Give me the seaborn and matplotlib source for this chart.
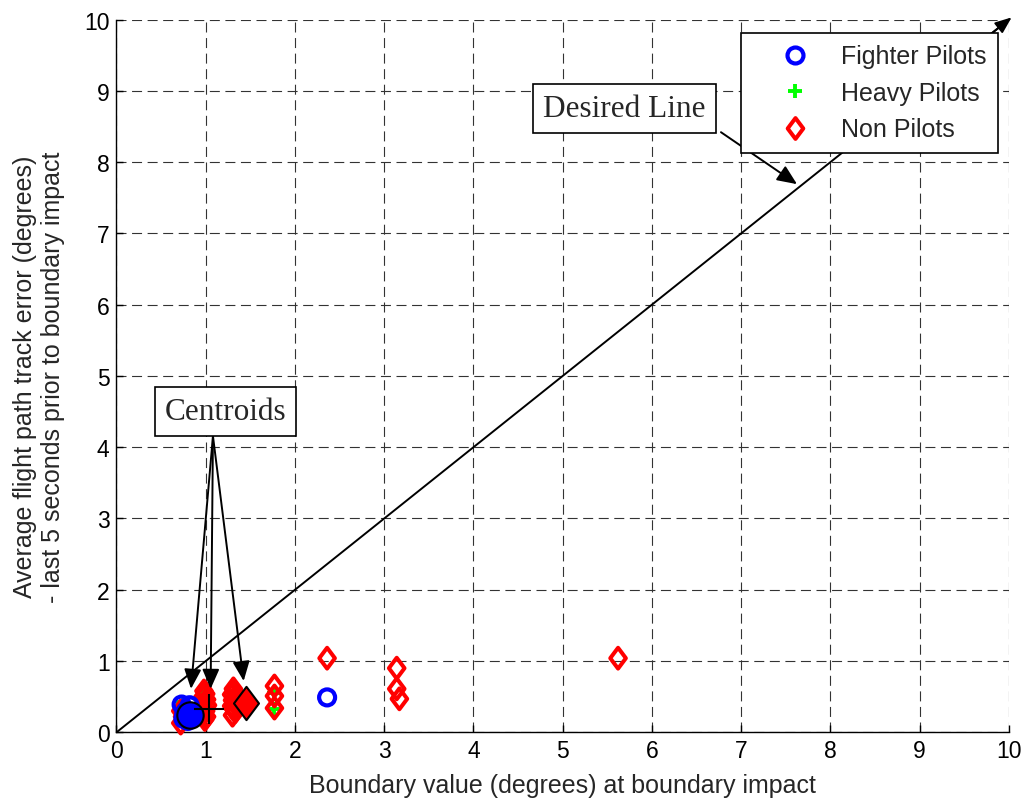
import matplotlib
matplotlib.use("Agg")
import matplotlib.pyplot as plt
from matplotlib.path import Path
from matplotlib.lines import Line2D
import pandas as pd
import seaborn as sns

# Subjects: boundary value at impact vs. average track error (degrees)
fighter_x = [0.73, 0.78, 0.75, 0.82, 0.80, 0.76, 2.36]
fighter_y = [0.39, 0.30, 0.19, 0.38, 0.16, 0.26, 0.49]

heavy_x = [0.75, 0.74, 1.00, 1.32, 1.77, 1.77]
heavy_y = [0.42, 0.30, 0.56, 0.58, 0.55, 0.33]

nonpilot_x = [0.72, 0.72, 0.74,
              0.98, 1.00, 0.97, 1.01, 0.99, 1.02, 0.98, 1.00, 0.97, 1.01, 0.99,
              1.31, 1.32, 1.29, 1.33, 1.30, 1.32, 1.29, 1.31, 1.33, 1.30,
              1.77, 1.77, 1.77, 2.36, 3.14, 3.14, 3.17, 5.62]
nonpilot_y = [0.13, 0.30, 0.22,
              0.58, 0.54, 0.50, 0.46, 0.42, 0.38, 0.34, 0.30, 0.26, 0.22, 0.18,
              0.61, 0.57, 0.53, 0.49, 0.45, 0.41, 0.37, 0.33, 0.29, 0.24,
              0.65, 0.51, 0.34, 1.04, 0.90, 0.61, 0.47, 1.04]

# Group centroids
centroid_fighter = [0.82, 0.24]
centroid_heavy = [1.04, 0.33]
centroid_nonpilot = [1.45, 0.41]

# Ideal response: track error equals boundary value
desired_x = [0, 10]
desired_y = [0, 10]

group_labels = ["Fighter Pilots", "Heavy Pilots", "Non Pilots"]
ticks = list(range(0, 11))

sns.set_style("ticks")
plt.rcParams["font.family"] = ["Liberation Sans", "DejaVu Sans"]

BLUE, GREEN, RED = "#0000FF", "#00FF00", "#FF0000"
diamond = Path([(0, 1), (0.75, 0), (0, -1), (-0.75, 0), (0, 1)],
               [Path.MOVETO, Path.LINETO, Path.LINETO, Path.LINETO, Path.CLOSEPOLY])

fig = plt.figure(figsize=(10.28, 8.04), dpi=100)
ax = fig.add_axes([0.1133, 0.0879, 0.8682, 0.8866])

fighters = pd.DataFrame({"x": fighter_x, "y": fighter_y})
heavies = pd.DataFrame({"x": heavy_x, "y": heavy_y})
nonpilots = pd.DataFrame({"x": nonpilot_x, "y": nonpilot_y})

sns.lineplot(x=desired_x, y=desired_y, color="black", lw=1.4, ax=ax, zorder=2)
ax.annotate("", xy=(10.03, 10.03), xytext=(9.6, 9.6),
            arrowprops=dict(arrowstyle="-|>,head_length=0.5,head_width=0.2",
                            color="black", lw=1.4, mutation_scale=20,
                            shrinkA=0, shrinkB=0),
            annotation_clip=False)

circle_ms, diamond_ms, plus_ms = 11.5, 15.0, 9.5
circle_lw, diamond_lw, plus_lw = 3.0, 2.9, 2.8
sns.scatterplot(data=heavies, x="x", y="y", marker="+", s=plus_ms ** 2,
                color=GREEN, linewidth=plus_lw, ax=ax, zorder=3)
sns.scatterplot(data=nonpilots, x="x", y="y", marker=diamond, s=diamond_ms ** 2,
                color=RED, facecolor="none", edgecolor=RED, linewidth=diamond_lw,
                ax=ax, zorder=4, clip_on=False)
sns.scatterplot(data=fighters, x="x", y="y", marker="o", s=circle_ms ** 2,
                color=BLUE, facecolor="none", edgecolor=BLUE, linewidth=circle_lw,
                ax=ax, zorder=5, clip_on=False)

# Centroid markers
sns.scatterplot(x=[centroid_fighter[0]], y=[centroid_fighter[1]], marker="o",
                s=19 ** 2, color=BLUE, edgecolor="black", linewidth=1.5,
                ax=ax, zorder=6, clip_on=False)
sns.scatterplot(x=[centroid_heavy[0]], y=[centroid_heavy[1]], marker="+",
                s=22 ** 2, color="black", linewidth=1.5, ax=ax, zorder=6)
sns.scatterplot(x=[centroid_nonpilot[0]], y=[centroid_nonpilot[1]], marker=diamond,
                s=24 ** 2, color=RED, edgecolor="black", linewidth=1.5,
                ax=ax, zorder=6)

ax.set_xlim(0, 10)
ax.set_ylim(0, 10)
ax.set_xticks(ticks)
ax.set_yticks(ticks)
ax.set_axisbelow(True)
ax.grid(True, color="#333333", linestyle=(0, (9, 5)), linewidth=0.8)
for side in ("top", "right"):
    ax.spines[side].set_visible(False)
for side in ("left", "bottom"):
    ax.spines[side].set_color("black")
    ax.spines[side].set_linewidth(1.0)
ax.tick_params(direction="in", length=5, width=1, labelsize=16.5, pad=5,
               colors="black")

ax.set_xlabel("Boundary value (degrees) at boundary impact", fontsize=18, labelpad=8)
ax.set_ylabel("Average flight path track error (degrees)\n- last 5 seconds prior to boundary impact",
              fontsize=18, labelpad=14, linespacing=1.2)

# Callout boxes with arrows
serif = ["Liberation Serif", "DejaVu Serif"]
box = dict(boxstyle="square,pad=0.32", facecolor="white", edgecolor="black", linewidth=1.2)
head = "-|>,head_length=0.6,head_width=0.26"

ax.text(1.221, 4.50, "Centroids", family=serif, fontsize=22.5, ha="center",
        va="center", bbox=box, zorder=8)
centroid_arrow_start = (1.081, 4.156)
for tip in [(0.835, 0.61), (1.055, 0.61), (1.425, 0.72)]:
    ax.annotate("", xy=tip, xytext=centroid_arrow_start,
                arrowprops=dict(arrowstyle=head, color="black", lw=1.4,
                                mutation_scale=20, shrinkA=0, shrinkB=0),
                zorder=7)

ax.text(5.692, 8.755, "Desired Line", family=serif, fontsize=22.5, ha="center",
        va="center", bbox=box, zorder=8)
ax.annotate("", xy=(7.625, 7.69), xytext=(6.773, 8.419),
            arrowprops=dict(arrowstyle=head, color="black", lw=1.4,
                            mutation_scale=20, shrinkA=0, shrinkB=0),
            zorder=7)

handles = [
    Line2D([], [], ls="none", marker="o", ms=circle_ms, mfc="none", mec=BLUE, mew=circle_lw),
    Line2D([], [], ls="none", marker="+", ms=plus_ms, color=GREEN, mew=plus_lw),
    Line2D([], [], ls="none", marker=diamond, ms=diamond_ms, mfc="none", mec=RED, mew=diamond_lw),
]
leg = ax.legend(handles, group_labels, loc="upper right",
                bbox_to_anchor=(998 / 1028, 1 - 34 / 804),
                bbox_transform=fig.transFigure, borderaxespad=0,
                fontsize=18, frameon=True, fancybox=False, framealpha=1,
                edgecolor="black", borderpad=0.45, labelspacing=0.5,
                handlelength=3.4, handletextpad=0.15)
leg.get_frame().set_linewidth(1.2)
leg.set_zorder(9)

fig.savefig("out.png", dpi=100)
